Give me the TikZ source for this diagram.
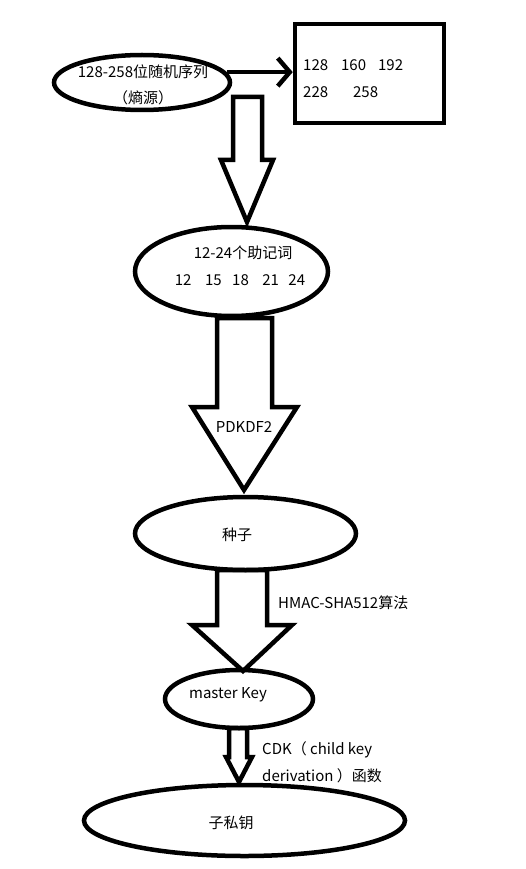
\documentclass[tikz,border=0pt]{standalone}
\usepackage{fontspec}
\setmainfont{Noto Sans CJK SC}
\usetikzlibrary{shapes.geometric,arrows.meta}
\begin{document}
\begin{tikzpicture}[x=1pt,y=-1pt,
  oval/.style={draw,ellipse,line width=4.5pt,inner sep=0pt,fill=white},
  lbl/.style={font=\fontsize{15}{26}\selectfont,inner sep=0pt,align=center},
  blk/.style={draw,line width=4.5pt,fill=white,line join=miter}]
\useasboundingbox (0,0) rectangle (526,869);
\fill[white] (0,0) rectangle (526,869);
% nodes
\node[oval,minimum width=176pt,minimum height=55pt] (e1) at (142,82.5) {};
\node[draw,line width=4.5pt,minimum width=149pt,minimum height=99pt,inner sep=0pt] (box) at (369.5,73.5) {};
% block arrows (drawn before ellipses they touch)
\draw[blk] (233,97) -- (262,97) -- (262,160) -- (273,160) -- (247,222) -- (221,160) -- (233,160) -- cycle;
\draw[blk] (217,318) -- (272,318) -- (272,407) -- (297,407) -- (244,490) -- (192,407) -- (217,407) -- cycle;
\draw[blk] (217,570) -- (267,570) -- (267,625) -- (292,625) -- (243,671) -- (192,625) -- (217,625) -- cycle;
\draw[blk] (229,728) -- (247,728) -- (247,757) -- (252,757) -- (239,782) -- (226,757) -- (229,757) -- cycle;
\node[oval,minimum width=193pt,minimum height=89pt,fill=none] (e2) at (231.5,271.5) {};
\node[oval,minimum width=221pt,minimum height=73pt,fill=none] (e3) at (245.5,533.5) {};
\node[oval,minimum width=148pt,minimum height=58pt,fill=none] (e4) at (239,699) {};
\node[oval,minimum width=321pt,minimum height=71pt,fill=none] (e5) at (244.5,820.5) {};
% texts
\node[lbl] (t1a) at (143,72) {128-258位随机序列};
\node[lbl] (t1b) at (143,98) {（熵源）};
\node[lbl,anchor=west] (b1) at (303,65) {128\hspace{13pt}160\hspace{12pt}192};
\node[lbl,anchor=west] (b2) at (303,92) {228\hspace{25pt}258};
\node[lbl] (t2a) at (243,253) {12-24个助记词};
\node[lbl] (t2b) at (240,280) {12\hspace{13.5pt}15\hspace{10.5pt}18\hspace{13.5pt}21\hspace{9.5pt}24};
\node[lbl] (k1) at (244,427) {PDKDF2};
\node[lbl] (t3) at (237,535) {种子};
\node[lbl,anchor=west] (k2) at (278,603) {HMAC-SHA512算法};
\node[lbl] (t4) at (228,695) {master Key};
\node[lbl,anchor=west] (k3a) at (262,750) {CDK（ child key};
\node[lbl,anchor=west] (k3b) at (262,776) {derivation ）函数};
\node[lbl] (t5) at (231,823) {子私钥};
% connector
\draw[line width=4.5pt,-{Straight Barb[length=12pt,width=28pt,line width=4.5pt]}] (e1.7) -- (e1.7 -| box.west);
\end{tikzpicture}
\end{document}
